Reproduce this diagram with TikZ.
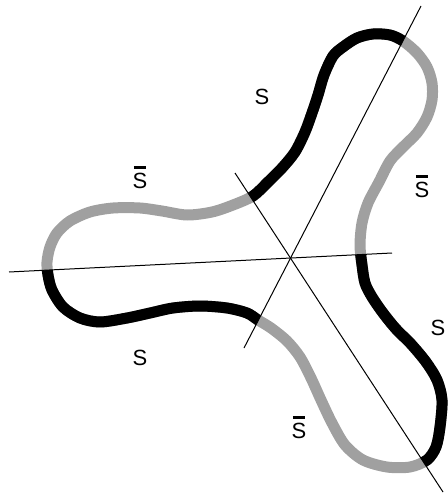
\documentclass[tikz,border=0pt]{standalone}
\usepackage{fontspec}
\setmainfont{Liberation Sans}
\usetikzlibrary{calc}
\definecolor{stipple}{RGB}{160,160,160}
\tikzset{
  lobe/.style={draw=#1,line width=11pt,line join=round},
  lobe/.default=black,
  axis/.style={draw=black,line width=1pt},
  tag/.style={font=\fontsize{22}{26}\selectfont,anchor=base,inner sep=0pt},
}
\newcommand{\sbar}{\makebox[0pt][l]{\hspace{1.3pt}\raisebox{19.5pt}{\rule{12pt}{2.2pt}}}S}
% the closed three-lobed curve
\newcommand{\trefoil}{plot[smooth cycle,tension=0.5] coordinates {
  (47,262) (50,247) (57,233) (70,221) (90,212) (113,208) (140,208) (162,211)
  (187,215) (212,212) (233,205) (253,196) (268,182) (282,168) (295,152)
  (305,132) (312,113) (318,95) (324,75) (333,56) (343,47) (357,38) (373,34)
  (390,35) (403,41) (417,53) (427,67) (432,83) (432,100) (427,117) (417,133)
  (403,147) (390,161) (379,182) (368,203) (362,223) (360,245) (362,265)
  (365,283) (372,297) (383,313) (396,329) (411,344) (426,362) (437,380)
  (442,400) (440,427) (436,447) (427,460) (410,467) (387,467) (363,460)
  (345,445) (332,423) (321,400) (311,378) (300,357) (287,341) (271,328)
  (258,320) (247,313) (227,308) (200,306) (173,308) (150,313) (127,318)
  (100,322) (80,318) (63,307) (52,290) (48,275)}}

\begin{document}
\begin{tikzpicture}[x=1pt,y=-1pt]
  \useasboundingbox (0,0) rectangle (447,497);
  \coordinate (O) at (290,258.5);
  \coordinate (w) at (9,272);    \coordinate (e) at (392,253);
  \coordinate (sw) at (244,348); \coordinate (ne) at (421,6);
  \coordinate (nw) at (235,173); \coordinate (se) at (443,492);
  % stippled curve, black arcs on top
  \draw[lobe=stipple] \trefoil;
  \begin{scope}
    \clip (O) -- ($(O)!9!(w)$) -- ($(O)!9!(sw)$) -- cycle
          (O) -- ($(O)!9!(se)$) -- ($(O)!9!(e)$) -- cycle
          (O) -- ($(O)!9!(ne)$) -- ($(O)!9!(nw)$) -- cycle;
    \draw[lobe] \trefoil;
  \end{scope}
  % axes
  \draw[axis] (w) -- (e);
  \draw[axis] (sw) -- (ne);
  \draw[axis] (nw) -- (se);
  % labels
  \node[tag] (s1) at (262,105) {S};
  \node[tag] (b1) at (140,188) {\sbar};
  \node[tag] (b2) at (422,197) {\sbar};
  \node[tag] (s2) at (438,335) {S};
  \node[tag] (s3) at (140,365) {S};
  \node[tag] (b3) at (299,438) {\sbar};
\end{tikzpicture}
\end{document}
